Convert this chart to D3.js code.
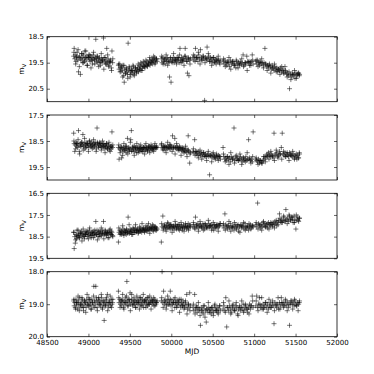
<!DOCTYPE html>
<meta charset="utf-8">
<html>
<head>
<script src="https://cdnjs.cloudflare.com/ajax/libs/d3/7.8.5/d3.min.js"></script>
<style>
  body { margin: 0; background: #fff; }
  text { font-family: "DejaVu Sans", sans-serif; }
</style>
</head>
<body>
<script>
// observation dates, one row per season
var mjd = [
  48822, 48828, 48835, 48841, 48850, 48856, 48863, 48871, 48880, 48886,
  48894, 48903, 48911, 48918, 48926, 48933, 48941, 48950, 48957, 48965,
  48972, 48980, 48988, 48996, 49004, 49011, 49019, 49027, 49034, 49042,
  49050, 49058, 49065, 49073, 49081, 49089, 49096, 49104, 49112, 49120,
  49128, 49135, 49143, 49151, 49159, 49166, 49174, 49182, 49190, 49198,
  49206, 49213, 49221, 49229, 49237, 49245, 49252, 49260, 49268, 49276,
  49284, 49292,
  49362, 49370, 49378, 49386, 49393, 49401, 49409, 49417, 49425, 49432,
  49440, 49448, 49456, 49464, 49471, 49479, 49487, 49495, 49503, 49510,
  49518, 49526, 49534, 49542, 49549, 49557, 49565, 49573, 49581, 49588,
  49596, 49604, 49612, 49620, 49627, 49635, 49643, 49651, 49659, 49666,
  49674, 49682, 49690, 49698, 49705, 49713, 49721, 49729, 49737, 49744,
  49752, 49760, 49768, 49776, 49783, 49791, 49799, 49807, 49815, 49822,
  49830,
  49880, 49889, 49898, 49907, 49916, 49925, 49934, 49943, 49952, 49961,
  49970, 49979, 49988, 49997, 50006, 50015, 50024, 50033, 50042, 50051,
  50060, 50069, 50078, 50087, 50096, 50105, 50114, 50123, 50132, 50141,
  50150, 50159, 50168, 50177, 50186, 50195, 50204, 50213, 50222, 50231,
  50262, 50272, 50282, 50292, 50302, 50312, 50322, 50332, 50342, 50352,
  50362, 50372, 50382, 50392, 50402, 50412, 50422, 50432, 50442, 50452,
  50462, 50472, 50482, 50492, 50502, 50512, 50522, 50532, 50542, 50552,
  50562, 50572, 50582, 50592,
  50625, 50636, 50647, 50658, 50669, 50680, 50691, 50702, 50713, 50724,
  50735, 50746, 50757, 50768, 50779, 50790, 50801, 50812, 50823, 50834,
  50845, 50856, 50867, 50878, 50889, 50900, 50911, 50922, 50933, 50944,
  50955, 50966, 50977, 50988,
  51020, 51031, 51042, 51053, 51064, 51075, 51086, 51097, 51108, 51119,
  51130, 51141, 51152, 51163, 51174, 51185, 51196, 51207, 51218, 51229,
  51240, 51251, 51262, 51273, 51284, 51295, 51306, 51317, 51328, 51339,
  51350, 51361, 51372, 51383, 51394, 51405, 51416, 51427, 51438, 51449,
  51460, 51471, 51482, 51493, 51504, 51515, 51526, 51537, 51548
];

// second, sparser set of epochs
var mjdB = [
  48825, 48846, 48860, 48875, 48890, 48907, 48922, 48937, 48953, 48968,
  48984, 49000, 49015, 49031, 49046, 49062, 49077, 49093, 49108, 49124,
  49139, 49155, 49170, 49186, 49201, 49217, 49232, 49248, 49263, 49279, 49294,
  49366, 49382, 49397, 49413, 49428, 49444, 49460, 49475, 49491, 49506,
  49522, 49538, 49553, 49569, 49584, 49600, 49616, 49631, 49647, 49662,
  49678, 49694, 49709, 49725, 49740, 49756, 49772, 49787, 49803, 49818,
  49884, 49902, 49920, 49938, 49956, 49974, 49992, 50010, 50028, 50046,
  50064, 50082, 50100, 50118, 50136, 50154, 50172, 50190, 50208, 50226,
  50267, 50287, 50307, 50327, 50347, 50367, 50387, 50407, 50427, 50447,
  50467, 50487, 50507, 50527, 50547, 50567, 50587,
  50630, 50652, 50674, 50696, 50718, 50740, 50762, 50784, 50806, 50828,
  50850, 50872, 50894, 50916, 50938, 50960, 50982,
  51025, 51047, 51069, 51091, 51113, 51135, 51157, 51179, 51201, 51223,
  51245, 51267, 51289, 51311, 51333, 51355, 51377, 51399, 51421, 51443,
  51465, 51487, 51509, 51531, 51545
];

var magV1 = [
  19.25, 18.95, 19.35, 19.2, 19.45, 19.3, 19.1, 19.4, 19.85, 19.3,
  19.25, 19.95, 19.4, 19.15, 19.3, 19.5, 19.2, 19.35, 19.05, 19.3,
  19.4, 19.25, 19.6, 19.3, 19.2, 19.35, 19.45, 19.25, 19.4, 19.3,
  19.55, 19.2, 19.35, 19.4, 19.3, 18.6, 19.45, 19.25, 19.5, 19.35,
  19.4, 19.3, 19.6, 19.45, 19.35, 19.5, 19.4, 18.55, 19.3, 19.45,
  19.55, 19.4, 18.95, 19.5, 19.35, 19.65, 19.45, 19.5, 19.4, 19.7,
  19.05, 19.5,
  19.6, 19.75, 19.55, 19.7, 19.85, 19.65, 19.8, 19.6, 20.0, 20.25,
  19.75, 19.9, 19.7, 19.85, 19.95, 18.75, 19.8, 19.7, 20.05, 19.85,
  19.75, 19.9, 19.8, 19.65, 19.95, 19.85, 19.7, 19.8, 19.9, 19.75,
  19.7, 19.85, 19.6, 19.75, 19.65, 19.8, 19.55, 19.7, 19.6, 19.65,
  19.5, 19.7, 19.55, 19.6, 19.45, 19.65, 19.5, 19.55, 19.4, 19.6,
  19.45, 19.5, 19.35, 19.55, 19.4, 19.45, 19.3, 19.5, 19.4, 19.35,
  19.45,
  19.35, 19.5, 19.3, 19.45, 19.4, 19.55, 19.35, 19.45, 19.3, 19.4,
  19.5, 20.05, 19.35, 20.25, 19.45, 19.4, 19.3, 19.5, 19.35, 19.4,
  19.45, 19.3, 19.4, 19.35, 19.5, 18.95, 19.4, 19.3, 19.45, 19.35,
  19.4, 19.25, 18.95, 19.35, 19.45, 19.9, 19.3, 20.0, 19.4, 19.35,
  19.3, 19.4, 19.25, 18.95, 19.35, 19.3, 19.45, 19.2, 19.35, 19.0,
  19.3, 19.4, 19.25, 19.35, 20.95, 19.3, 19.4, 18.9, 19.35, 19.25,
  19.45, 19.3, 19.4, 19.35, 19.5, 19.3, 19.45, 19.4, 19.55, 19.35,
  19.45, 19.4, 19.5, 19.4,
  19.45, 19.55, 19.4, 19.5, 19.6, 19.45, 19.5, 19.65, 19.4, 19.55,
  19.5, 19.45, 19.6, 19.55, 19.7, 19.45, 19.55, 19.5, 19.6, 19.45,
  19.55, 19.5, 19.2, 19.6, 19.5, 19.55, 19.25, 19.45, 19.5, 19.6,
  19.5, 19.45, 19.2, 19.55,
  19.45, 19.55, 19.4, 19.5, 19.6, 19.45, 19.55, 19.5, 19.6, 19.5,
  18.95, 19.55, 19.65, 19.6, 19.7, 19.55, 19.65, 19.75, 19.6, 19.7,
  19.8, 19.65, 19.75, 19.7, 19.85, 19.75, 19.8, 19.7, 19.85, 19.8,
  19.75, 19.9, 19.65, 19.85, 19.95, 19.9, 20.0, 20.5, 19.95, 20.05,
  19.9, 20.0, 19.95, 20.1, 19.9, 20.0, 19.95, 19.9, 19.95
];
var magV1B = [
  19.1, 19.55, 19.25, 19.0, 19.65, 19.35, 19.15, 19.5, 19.45, 19.05,
  19.6, 19.3, 19.2, 19.7, 19.4, 19.1, 19.55, 19.35, 19.25, 19.65,
  19.5, 19.15, 19.4, 19.75, 19.3, 19.55, 19.2, 19.6, 19.45, 19.8, 19.35,
  19.55, 19.85, 19.7, 20.05, 19.6, 19.9, 19.75, 20.1, 19.65, 19.95,
  19.8, 19.6, 20.0, 19.7, 19.85, 19.55, 19.75, 19.5, 19.8, 19.45,
  19.65, 19.4, 19.6, 19.55, 19.3, 19.5, 19.4, 19.25, 19.55, 19.35,
  19.25, 19.55, 19.35, 19.2, 19.6, 19.45, 19.3, 19.5, 19.15, 19.4,
  19.55, 19.3, 19.2, 19.5, 19.4, 19.6, 19.25, 19.45, 19.35, 19.55,
  19.2, 19.45, 19.3, 19.1, 19.55, 19.4, 19.25, 19.5, 19.35, 19.15,
  19.45, 19.6, 19.3, 19.5, 19.4, 19.25, 19.55,
  19.35, 19.65, 19.5, 19.3, 19.75, 19.45, 19.6, 19.4, 19.7, 19.55,
  19.35, 19.65, 19.5, 19.8, 19.45, 19.6, 19.4,
  19.4, 19.65, 19.5, 19.35, 19.7, 19.55, 19.8, 19.6, 19.9, 19.7,
  19.55, 19.85, 19.75, 19.95, 19.65, 19.9, 19.8, 20.05, 19.85, 20.15,
  19.95, 19.8, 20.1, 19.9, 20.0
];

var magV2 = [
  18.2, 18.6, 18.9, 18.65, 18.55, 18.7, 18.6, 18.75, 18.1, 18.65,
  19.0, 18.6, 18.7, 18.55, 18.65, 18.25, 18.7, 18.6, 18.8, 18.65,
  18.55, 18.7, 18.6, 18.65, 18.75, 18.5, 18.65, 18.6, 18.7, 18.55,
  18.65, 18.75, 18.6, 18.7, 18.55, 18.65, 18.8, 18.0, 18.6, 18.7,
  18.65, 18.55, 18.7, 18.6, 18.75, 18.65, 18.7, 18.6, 18.8, 18.65,
  18.7, 18.75, 18.6, 18.8, 18.7, 18.65, 18.85, 18.75, 18.7, 18.8,
  18.15, 18.75,
  18.75, 19.2, 18.8, 18.85, 18.7, 19.15, 18.8, 18.9, 18.75, 18.85,
  18.8, 18.7, 18.95, 18.8, 18.4, 18.85, 18.75, 18.9, 18.8, 18.45,
  18.1, 18.85, 18.75, 18.8, 18.9, 18.7, 18.85, 18.8, 18.95, 18.75,
  18.8, 18.85, 18.7, 18.9, 18.8, 18.75, 18.85, 18.8, 18.9, 18.75,
  18.8, 18.7, 18.85, 18.75, 18.8, 18.9, 18.75, 18.8, 18.7, 18.85,
  18.75, 18.8, 18.7, 18.85, 18.75, 18.8, 18.7, 18.75, 18.8, 18.7,
  18.75,
  18.65, 18.75, 18.8, 18.7, 18.75, 18.85, 18.7, 18.75, 18.8, 18.7,
  18.75, 18.65, 18.8, 18.7, 18.75, 18.3, 18.8, 18.7, 18.4, 18.75,
  18.8, 18.7, 18.75, 18.8, 18.85, 18.75, 18.8, 18.85, 18.75, 18.9,
  18.8, 18.85, 18.9, 18.8, 18.95, 18.85, 18.3, 18.9, 19.35, 18.95,
  18.9, 18.95, 18.45, 18.9, 19.0, 18.95, 19.05, 18.9, 19.0, 19.05,
  18.95, 19.0, 19.1, 18.95, 19.05, 19.0, 19.1, 19.05, 19.0, 19.1,
  19.8, 19.05, 19.1, 19.0, 19.15, 19.05, 19.1, 19.2, 19.05, 19.1,
  19.15, 19.05, 19.1, 19.2,
  18.75, 19.1, 19.2, 19.15, 19.25, 19.1, 19.2, 19.15, 19.3, 19.1,
  19.2, 19.15, 18.0, 19.25, 19.1, 19.2, 19.15, 19.25, 19.2, 19.1,
  19.2, 19.3, 19.15, 19.25, 19.2, 19.1, 19.25, 19.2, 18.45, 19.15,
  19.25, 19.2, 19.3, 18.15,
  19.2, 19.25, 19.3, 19.2, 19.35, 19.25, 19.3, 19.35, 19.25, 19.2,
  19.1, 19.15, 19.05, 19.1, 18.95, 19.05, 19.1, 19.0, 19.05, 19.15,
  18.2, 19.05, 19.0, 18.95, 19.1, 19.05, 18.9, 19.0, 18.75, 18.2,
  19.0, 19.05, 18.95, 19.1, 19.0, 19.05, 19.1, 18.95, 19.0, 19.05,
  19.1, 19.0, 19.15, 19.05, 19.1, 19.2, 19.05, 19.15, 19.0
];
var magV2B = [
  18.5, 18.8, 18.6, 18.45, 18.9, 18.7, 18.55, 18.85, 18.4, 18.75,
  18.6, 18.9, 18.5, 18.7, 18.8, 18.45, 18.65, 18.9, 18.55, 18.75,
  18.6, 18.85, 18.5, 18.7, 18.95, 18.6, 18.8, 18.55, 18.9, 18.7, 18.65,
  18.65, 18.95, 18.75, 19.05, 18.6, 18.85, 18.7, 19.0, 18.8, 18.55,
  18.9, 18.7, 19.05, 18.75, 18.6, 18.95, 18.8, 18.65, 18.9, 18.75,
  19.0, 18.6, 18.85, 18.7, 18.95, 18.65, 18.8, 18.9, 18.6, 18.75,
  18.6, 18.85, 18.7, 18.95, 18.55, 18.8, 18.65, 18.9, 18.75, 19.0,
  18.6, 18.85, 18.7, 19.05, 18.8, 18.95, 18.7, 19.1, 18.85, 19.0,
  18.8, 19.05, 18.9, 19.15, 18.85, 19.2, 18.95, 19.1, 19.25, 18.9,
  19.05, 19.3, 18.95, 19.15, 19.0, 19.25, 19.1,
  19.0, 19.3, 19.1, 19.4, 18.95, 19.2, 19.35, 19.05, 19.25, 19.0,
  19.4, 19.15, 19.3, 18.95, 19.2, 19.35, 19.1,
  19.15, 19.4, 19.25, 19.35, 19.1, 19.3, 19.0, 19.2, 18.9, 19.1,
  19.25, 18.85, 19.15, 19.0, 19.2, 18.9, 19.1, 18.95, 19.25, 19.05,
  18.9, 19.2, 19.0, 19.15, 18.95
];

var magV3 = [
  18.3, 19.05, 18.5, 18.8, 18.4, 18.6, 18.2, 18.5, 18.45, 18.35,
  18.55, 18.3, 18.4, 18.25, 18.5, 18.35, 18.45, 18.6, 18.3, 18.4,
  18.25, 18.35, 18.5, 18.3, 18.4, 18.2, 18.45, 18.35, 18.55, 18.3,
  18.4, 18.25, 18.35, 18.45, 18.3, 17.8, 18.4, 18.2, 18.35, 18.5,
  18.3, 18.4, 18.25, 18.35, 18.45, 18.2, 18.3, 17.8, 18.4, 18.35,
  18.25, 18.4, 18.3, 18.35, 18.55, 18.3, 18.2, 18.35, 18.4, 18.25,
  18.3, 18.45,
  18.75, 18.3, 18.2, 18.35, 18.25, 18.4, 18.3, 18.15, 18.35, 18.2,
  18.3, 18.25, 18.4, 18.2, 18.3, 17.6, 18.25, 18.35, 18.15, 18.3,
  18.2, 18.25, 18.4, 18.15, 18.3, 18.2, 18.1, 18.3, 18.25, 18.2,
  18.15, 18.3, 18.2, 18.25, 18.1, 18.2, 18.3, 18.15, 18.2, 18.1,
  18.25, 18.15, 18.2, 18.1, 18.25, 18.05, 18.2, 18.15, 18.1, 18.2,
  18.05, 18.15, 18.1, 18.2, 18.0, 18.15, 18.1, 18.05, 18.2, 18.1,
  18.15,
  18.75, 18.05, 17.55, 18.1, 17.95, 18.05, 18.15, 18.0, 18.1, 17.9,
  18.05, 18.0, 18.15, 17.95, 18.05, 18.1, 18.0, 18.2, 18.05, 17.95,
  18.1, 18.0, 18.05, 18.15, 17.95, 18.05, 18.1, 18.0, 18.2, 18.05,
  17.95, 18.1, 18.05, 18.0, 18.15, 18.05, 17.9, 18.1, 18.0, 18.05,
  18.05, 17.95, 18.1, 17.6, 18.0, 18.05, 17.9, 18.1, 18.0, 17.95,
  18.05, 18.1, 17.9, 18.0, 18.15, 17.95, 18.05, 18.0, 18.1, 17.9,
  18.05, 18.0, 17.95, 18.1, 18.0, 18.2, 17.95, 18.05, 18.0, 18.1,
  17.95, 18.05, 18.0, 17.9,
  18.0, 18.1, 17.45, 17.95, 18.05, 18.15, 18.0, 18.1, 17.9, 18.05,
  18.1, 18.0, 18.2, 18.05, 17.95, 18.1, 18.0, 18.25, 18.05, 17.95,
  18.1, 18.0, 18.05, 18.15, 17.9, 18.05, 18.1, 18.0, 18.2, 18.05,
  17.95, 18.1, 18.0, 18.05,
  17.95, 18.05, 16.95, 17.9, 18.0, 18.1, 17.95, 18.05, 17.85, 18.0,
  17.9, 18.05, 17.95, 18.1, 17.85, 17.95, 18.0, 17.9, 18.05, 17.85,
  17.95, 17.8, 17.9, 18.0, 17.85, 17.75, 17.45, 17.8, 17.7, 17.85,
  17.75, 17.6, 17.8, 17.25, 17.7, 17.65, 17.8, 17.55, 17.75, 17.6,
  17.7, 17.85, 17.55, 17.75, 18.15, 17.7, 17.6, 17.8, 17.65
];
var magV3B = [
  18.3, 18.65, 18.45, 18.2, 18.55, 18.35, 18.7, 18.15, 18.5, 18.4,
  18.25, 18.6, 18.1, 18.45, 18.3, 18.55, 18.2, 18.4, 18.65, 18.25,
  18.5, 18.1, 18.35, 18.6, 18.2, 18.45, 18.3, 18.55, 18.15, 18.4, 18.5,
  18.1, 18.4, 18.25, 18.0, 18.45, 18.3, 18.15, 18.35, 17.95, 18.25,
  18.4, 18.1, 18.3, 17.95, 18.2, 18.35, 18.05, 18.25, 17.9, 18.15,
  18.3, 18.0, 18.2, 17.9, 18.35, 18.1, 17.95, 18.25, 18.05, 18.2,
  17.9, 18.2, 18.0, 18.25, 17.85, 18.1, 17.95, 18.3, 18.05, 17.8,
  18.15, 17.95, 18.2, 17.85, 18.1, 18.25, 17.9, 18.05, 18.2, 17.95,
  17.85, 18.15, 17.95, 18.25, 17.8, 18.05, 18.2, 17.9, 18.1, 17.75,
  18.0, 18.2, 17.85, 18.1, 17.95, 18.25, 17.9,
  17.9, 18.2, 18.0, 17.8, 18.25, 18.05, 17.85, 18.15, 17.95, 18.3,
  18.0, 17.85, 18.2, 18.05, 17.9, 18.15, 18.0,
  17.85, 18.15, 17.95, 18.2, 17.8, 18.05, 17.9, 18.15, 17.85, 17.95,
  18.1, 17.75, 17.95, 17.65, 17.85, 17.55, 17.75, 17.9, 17.5, 17.7,
  17.6, 17.85, 17.5, 17.75, 17.65
];

var magV4 = [
  18.9, 19.05, 18.95, 19.1, 18.85, 19.0, 18.95, 19.15, 18.9, 19.05,
  18.8, 19.0, 19.1, 18.95, 18.85, 19.05, 19.2, 18.9, 19.0, 18.95,
  19.1, 18.85, 19.0, 18.95, 18.8, 19.05, 18.9, 19.0, 19.15, 18.85,
  18.95, 19.05, 18.45, 18.9, 19.0, 18.45, 18.8, 19.1, 18.95, 18.85,
  19.0, 18.9, 19.05, 18.95, 18.8, 19.1, 18.9, 19.0, 19.5, 18.95,
  19.05, 18.85, 18.95, 18.7, 19.0, 19.1, 18.9, 18.95, 19.05, 18.85,
  19.0, 18.95,
  18.6, 18.95, 18.85, 19.0, 18.9, 19.05, 18.85, 18.95, 19.1, 18.9,
  19.0, 18.8, 18.95, 18.3, 18.9, 19.05, 18.85, 18.95, 18.65, 19.0,
  18.9, 18.85, 19.05, 18.95, 18.8, 19.0, 18.9, 19.1, 18.95, 18.85,
  19.0, 18.9, 18.95, 18.8, 19.05, 18.9, 19.0, 18.85, 18.95, 19.1,
  18.9, 18.95, 18.85, 19.0, 18.9, 19.05, 18.8, 18.95, 19.0, 18.9,
  18.95, 18.85, 19.0, 18.9, 18.95, 19.05, 18.85, 18.9, 19.0, 18.95,
  18.9,
  18.9, 18.0, 18.95, 18.6, 19.0, 18.85, 18.95, 19.05, 18.9, 19.0,
  18.85, 18.95, 18.6, 19.05, 18.9, 19.0, 18.95, 18.85, 19.1, 18.95,
  19.0, 18.9, 19.05, 18.95, 18.85, 19.0, 19.1, 18.95, 19.05, 18.9,
  19.0, 19.1, 18.95, 19.05, 18.7, 19.15, 19.0, 19.1, 18.65, 19.05,
  19.1, 19.2, 18.7, 19.15, 19.05, 19.25, 19.1, 19.2, 19.15, 19.65,
  19.1, 19.25, 19.15, 19.3, 19.05, 19.2, 19.55, 19.15, 19.25, 19.1,
  19.2, 19.15, 19.3, 19.1, 19.2, 19.25, 19.05, 19.15, 19.2, 19.1,
  19.25, 19.15, 19.05, 19.2,
  19.15, 19.05, 19.2, 18.8, 19.7, 19.1, 19.2, 19.05, 19.15, 19.25,
  19.1, 19.0, 19.15, 19.2, 19.05, 19.1, 19.3, 19.15, 19.05, 19.2,
  19.1, 19.15, 19.0, 19.2, 19.1, 19.05, 19.15, 19.25, 19.1, 19.0,
  19.15, 19.05, 18.75, 19.1,
  19.05, 18.75, 19.1, 19.0, 18.8, 19.1, 19.05, 19.15, 19.0, 19.1,
  19.05, 18.95, 19.1, 19.0, 19.15, 19.05, 18.95, 19.1, 19.0, 19.05,
  19.6, 18.95, 19.05, 19.1, 19.0, 19.15, 18.95, 19.05, 18.8, 19.0,
  18.95, 19.05, 19.0, 18.9, 19.05, 18.95, 19.1, 19.65, 19.0, 18.9,
  19.0, 18.95, 19.05, 18.9, 19.0, 19.05, 18.95, 19.0, 18.9
];
var magV4B = [
  18.85, 19.15, 18.95, 18.75, 19.2, 19.0, 18.8, 19.1, 18.9, 19.25,
  18.7, 19.05, 18.85, 19.15, 18.95, 18.75, 19.1, 18.9, 19.2, 18.8,
  19.0, 18.7, 19.15, 18.9, 19.05, 18.8, 19.2, 18.95, 18.75, 19.1, 18.85,
  18.8, 19.1, 18.9, 18.7, 19.15, 18.95, 18.75, 19.05, 18.85, 19.2,
  18.7, 19.0, 18.9, 19.1, 18.75, 18.95, 19.15, 18.8, 19.05, 18.7,
  18.9, 19.1, 18.8, 19.0, 18.75, 19.15, 18.9, 18.8, 19.05, 18.95,
  18.8, 19.1, 18.9, 19.15, 18.75, 19.0, 18.85, 19.2, 18.95, 18.8,
  19.1, 18.9, 19.25, 18.85, 19.05, 19.15, 18.9, 19.3, 19.0, 19.2,
  19.0, 19.3, 19.1, 18.95, 19.35, 19.2, 19.05, 19.4, 19.15, 18.95,
  19.25, 19.1, 19.35, 19.0, 19.2, 19.3, 19.05,
  18.95, 19.25, 19.1, 18.9, 19.3, 19.05, 19.2, 18.95, 19.35, 19.1,
  18.9, 19.25, 19.0, 19.15, 19.3, 19.05, 18.9,
  18.9, 19.2, 19.0, 18.8, 19.15, 18.95, 19.25, 18.85, 19.1, 18.9,
  19.2, 19.0, 18.8, 19.15, 18.95, 19.1, 18.85, 19.2, 19.0, 18.9,
  19.15, 18.85, 19.05, 19.2, 18.95
];

var panels = [[magV1, magV1B], [magV2, magV2B], [magV3, magV3B], [magV4, magV4B]];
var yDomains = [[18.5, 21.0], [17.5, 20.0], [16.5, 19.5], [18.0, 20.0]];
var yTicks = [[18.5, 19.5, 20.5], [17.5, 18.5, 19.5], [16.5, 17.5, 18.5, 19.5], [18.0, 19.0, 20.0]];
var xTicks = [48500, 49000, 49500, 50000, 50500, 51000, 51500, 52000];

var W = 374, H = 374;
var left = 47, right = 337;
var panelTop = [36.7, 115, 193.3, 271.7];
var panelH = 65;

var svg = d3.select("body").append("svg")
    .attr("width", W)
    .attr("height", H);

var x = d3.scaleLinear().domain([48500, 52000]).range([left, right]);
var plus = "M-2.5,0H2.5M0,-2.5V2.5";

panels.forEach(function(sets, i) {
    var top = panelTop[i], bottom = top + panelH;
    var y = d3.scaleLinear().domain(yDomains[i]).range([top, bottom]);
    var g = svg.append("g");

    var pts = mjd.map(function(d, k) { return [d, sets[0][k]]; })
        .concat(mjdB.map(function(d, k) { return [d, sets[1][k]]; }))
        .filter(function(p) { return p[1] != null; });

    g.append("g").selectAll("path")
        .data(pts)
        .enter().append("path")
        .attr("d", plus)
        .attr("transform", function(p) { return "translate(" + x(p[0]) + "," + y(p[1]) + ")"; })
        .attr("stroke", "#000")
        .attr("stroke-width", 0.7)
        .attr("stroke-opacity", 0.75)
        .attr("fill", "none");

    // inward ticks on all four sides
    var axB = d3.axisBottom(x).tickValues(xTicks).tickSize(-3)
        .tickFormat(i === 3 ? d3.format("d") : "");
    var axT = d3.axisTop(x).tickValues(xTicks).tickSize(-3).tickFormat("");
    var axL = d3.axisLeft(y).tickValues(yTicks[i]).tickSize(-3).tickPadding(3)
        .tickFormat(d3.format(".1f"));
    var axR = d3.axisRight(y).tickValues(yTicks[i]).tickSize(-3).tickFormat("");

    [[axB, "translate(0," + bottom + ")"], [axT, "translate(0," + top + ")"],
     [axL, "translate(" + left + ",0)"], [axR, "translate(" + right + ",0)"]]
    .forEach(function(a) {
        var ag = g.append("g").attr("transform", a[1]).call(a[0]);
        ag.select(".domain").remove();
        ag.selectAll("line").attr("stroke", "#000").attr("stroke-width", 0.6);
        ag.selectAll("text").attr("font-size", 7).attr("fill", "#000")
          .attr("font-family", "DejaVu Sans");
    });

    g.append("rect")
        .attr("x", left).attr("y", top)
        .attr("width", right - left).attr("height", panelH)
        .attr("fill", "none")
        .attr("stroke", "#000")
        .attr("stroke-width", 0.8);

    var lab = g.append("text")
        .attr("transform", "translate(24," + (top + panelH / 2) + ") rotate(-90)")
        .attr("text-anchor", "middle")
        .attr("font-size", 7.5)
        .attr("fill", "#000");
    lab.append("tspan").text("m");
    lab.append("tspan").attr("font-size", 5.5).attr("dy", 2).text("V");
});

svg.append("text")
    .attr("x", (left + right) / 2)
    .attr("y", 354)
    .attr("text-anchor", "middle")
    .attr("font-size", 7.5)
    .attr("fill", "#000")
    .text("MJD");
</script>
</body>
</html>
